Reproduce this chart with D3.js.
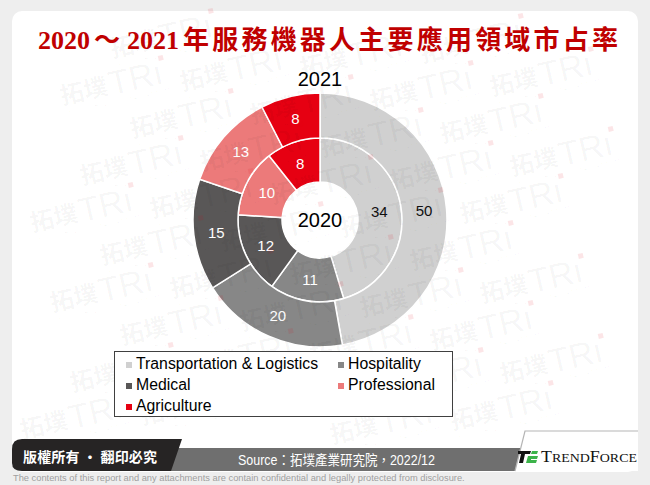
<!DOCTYPE html>
<html><head><meta charset="utf-8">
<script src="https://cdn.jsdelivr.net/npm/d3@7"></script>
<style>html,body{margin:0;padding:0;background:#eeeeee;}svg{display:block;}</style>
</head><body>
<svg id="chart" width="650" height="485"></svg>
<script>
const titleStart = "2020", titleTilde = "～", titleEnd = "2021";
const titleCJK = "年服務機器人主要應用領域市占率";
const categories = ["Transportation & Logistics", "Hospitality", "Medical", "Professional", "Agriculture"];
const values2020 = [34, 11, 12, 10, 8];
const values2021 = [50, 20, 15, 13, 8];
const colors = ["#d0d0d0", "#878787", "#595757", "#ec7a7a", "#e60012"];
const labelColors = ["#111111", "#ffffff", "#ffffff", "#ffffff", "#ffffff"];
const yearInner = "2020", yearOuter = "2021";
const copyrightText = "版權所有 · 翻印必究";
const sourceText = "Source：拓墣產業研究院，2022/12";
const disclaimer = "The contents of this report and any attachments are contain confidential and legally protected from disclosure.";

const svg = d3.select("#chart");
const W = 650, H = 485;

// page + card
svg.append("rect").attr("width", W).attr("height", H).attr("fill", "#eeeeee");
svg.append("rect").attr("x", 12).attr("y", 11).attr("width", 626).attr("height", 461).attr("rx", 10).attr("fill", "#ffffff");

const serif = "'Liberation Serif','DejaVu Serif',serif";
const cjk = "'Noto Sans CJK TC','Noto Sans CJK SC',sans-serif";

// donut
const cx = 320, cy = 220;
const r0 = 38, r1 = 82, r2 = 127;
const pie = d3.pie().sort(null).value(d => d);
const chart = svg.append("g").attr("transform", `translate(${cx},${cy})`);
const rings = [
  {vals: values2020, inner: r0, outer: r1},
  {vals: values2021, inner: r1, outer: r2}
];
rings.forEach(ring => {
  const arc = d3.arc().innerRadius(ring.inner).outerRadius(ring.outer);
  const arcs = pie(ring.vals);
  chart.append("g").selectAll("path").data(arcs).join("path")
    .attr("d", arc).attr("fill", (d, i) => colors[i])
    .attr("stroke", "#ffffff").attr("stroke-width", 1.5);
});

// legend box
const lg = svg.append("g");
lg.append("rect").attr("x", 114.5).attr("y", 351.5).attr("width", 338).attr("height", 65)
  .attr("fill", "#ffffff").attr("stroke", "#404040").attr("stroke-width", 1);

// watermark (faint, over the fills)
const wm = svg.append("g").attr("pointer-events", "none");
const u = [70, 33], v = [-50, 47], origin = [60, 95];
for (let i = -8; i <= 10; i++) {
  for (let j = -8; j <= 12; j++) {
    const x = origin[0] + i * u[0] + j * v[0];
    const y = origin[1] + i * u[1] + j * v[1];
    if (x < 16 || x + 122 > 634 || y < 46 || y > 440) continue;
    const g = wm.append("g").attr("transform", `translate(${x},${y}) rotate(-13)`);
    g.append("text").attr("x", 0).attr("y", 10)
      .attr("font-family", cjk).attr("font-weight", "bold").attr("font-size", 24)
      .attr("fill", "#000").attr("fill-opacity", 0.04).text("拓墣");
    g.append("text").attr("x", 50).attr("y", 12)
      .attr("font-family", "'Liberation Sans',sans-serif").attr("font-size", 34)
      .attr("fill", "#000").attr("fill-opacity", 0.04).text("TRı");
    g.append("rect").attr("x", 104).attr("y", -16).attr("width", 5).attr("height", 5)
      .attr("fill", "#e60012").attr("fill-opacity", 0.1);
    g.append("text").attr("x", 4).attr("y", 23)
      .attr("font-family", "'Liberation Sans',sans-serif").attr("font-size", 7.5)
      .attr("textLength", 106).attr("lengthAdjust", "spacingAndGlyphs")
      .attr("fill", "#000").attr("fill-opacity", 0.04).text("TOPOLOGY RESEARCH INSTITUTE");
  }
}

// title
const title = svg.append("text").attr("y", 49).attr("fill", "#c00000")
  .attr("font-weight", "bold").attr("font-size", 26);
title.append("tspan").attr("x", 38).attr("font-family", serif).text(titleStart);
title.append("tspan").attr("x", 94).attr("font-family", cjk).text(titleTilde);
title.append("tspan").attr("x", 127).attr("font-family", serif).text(titleEnd);
title.append("tspan").attr("x", 183).attr("font-family", cjk)
  .attr("textLength", 435).attr("lengthAdjust", "spacing").text(titleCJK);

// donut labels
rings.forEach(ring => {
  const arc = d3.arc().innerRadius(ring.inner).outerRadius(ring.outer);
  chart.append("g").selectAll("text").data(pie(ring.vals)).join("text")
    .attr("transform", d => `translate(${arc.centroid(d)})`)
    .attr("text-anchor", "middle").attr("dy", "0.36em")
    .attr("font-family", "'Liberation Sans',Arial,sans-serif").attr("font-size", 15)
    .attr("fill", (d, i) => labelColors[i]).text(d => d.data);
});
chart.append("text").attr("x", 0).attr("y", 7).attr("text-anchor", "middle")
  .attr("font-family", "'Liberation Sans',Arial,sans-serif").attr("font-size", 20).attr("fill", "#000")
  .text(yearInner);
svg.append("text").attr("x", cx).attr("y", 86).attr("text-anchor", "middle")
  .attr("font-family", "'Liberation Sans',Arial,sans-serif").attr("font-size", 20).attr("fill", "#000")
  .text(yearOuter);

// legend entries
const colX = [126, 338], rowY = [369, 390, 411];
categories.forEach((c, i) => {
  const col = i % 2, row = Math.floor(i / 2);
  const g = lg.append("g").attr("transform", `translate(${colX[col]},${rowY[row]})`);
  g.append("rect").attr("x", 0).attr("y", -7).attr("width", 6).attr("height", 6).attr("fill", colors[i]);
  g.append("text").attr("x", 10).attr("y", 0)
    .attr("font-family", "'Liberation Sans',Arial,sans-serif").attr("font-size", 15.8).attr("fill", "#000")
    .text(c);
});
lg.raise();

// footer
const ft = svg.append("g");
ft.append("path").attr("d", "M176,448 L523,448 L515,471 L169,471 Z").attr("fill", "#6f6f6f");
ft.append("path").attr("d", "M12,449 Q12,439 22,439 L182,439 L171,471 L22,471 Q12,471 12,463 Z").attr("fill", "#262424");
ft.append("path").attr("d", "M525,431 L638,431 L638,471 L515,471 Z").attr("fill", "#ffffff");
ft.append("path").attr("d", "M515,471 L525,431 L638,431").attr("fill", "none").attr("stroke", "#b5b5b5").attr("stroke-width", 1.2);
ft.append("text").attr("x", 23).attr("y", 462).attr("fill", "#ffffff")
  .attr("font-family", cjk).attr("font-size", 14).attr("font-weight", "bold")
  .attr("textLength", 134).attr("lengthAdjust", "spacing").text(copyrightText);
ft.append("text").attr("x", 238).attr("y", 465).attr("fill", "#ffffff")
  .attr("font-family", "'Liberation Sans','Noto Sans CJK TC',sans-serif").attr("font-size", 14)
  .attr("textLength", 197).attr("lengthAdjust", "spacingAndGlyphs").text(sourceText);
// logo icon
const ic = ft.append("g");
ic.append("path").attr("d", "M518,451 L531,451 L530,454 L525,454 L523,463 L519,463 L521,454 L518,454 Z").attr("fill", "#111");
ic.append("path").attr("d", "M532,451 L538,451 L537,454 L531,454 Z").attr("fill", "#3cb34a");
ic.append("path").attr("d", "M528,456 L538,456 L537,459 L531,459 L531,460 L537,460 L536,463 L526,463 Z").attr("fill", "#3cb34a");
const lt = ft.append("text").attr("x", 541).attr("y", 462).attr("fill", "#111")
  .attr("font-family", serif).attr("textLength", 96).attr("lengthAdjust", "spacingAndGlyphs");
lt.append("tspan").attr("font-size", 16).text("T");
lt.append("tspan").attr("font-size", 12.5).text("REND");
lt.append("tspan").attr("font-size", 16).text("F");
lt.append("tspan").attr("font-size", 12.5).text("ORCE");

svg.append("text").attr("x", 13).attr("y", 481).attr("fill", "#a0a0a0")
  .attr("font-family", "'Liberation Sans',Arial,sans-serif").attr("font-size", 9.3)
  .text(disclaimer);
</script>
</body></html>
